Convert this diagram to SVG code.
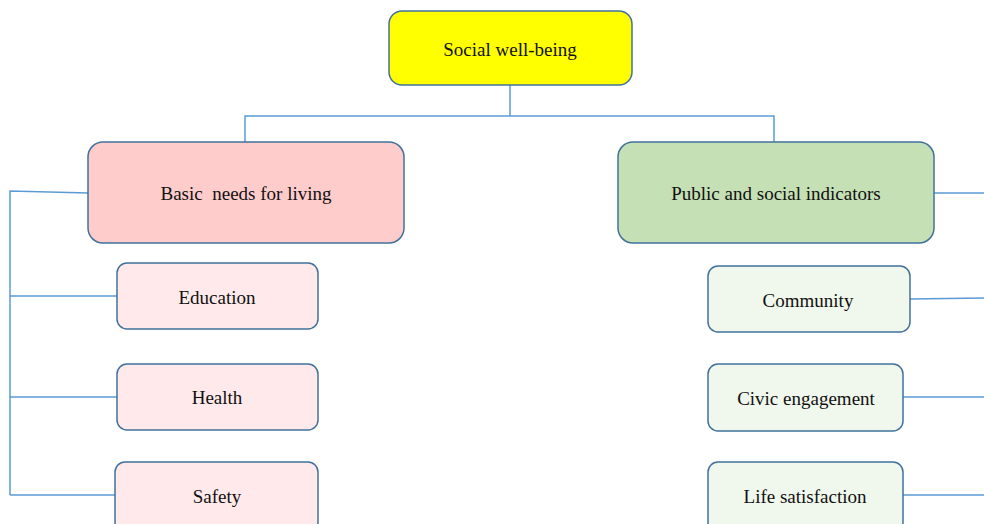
<svg xmlns="http://www.w3.org/2000/svg" width="984" height="524" viewBox="0 0 984 524">
<style>
.box{stroke:#41719C;stroke-width:1.5}
.t{font-family:"Liberation Serif","Times New Roman",serif;font-size:19px;fill:#111;text-anchor:middle;dominant-baseline:central;white-space:pre}
.c{fill:none;stroke:#5B9BD5;stroke-width:1.5}
.pk{fill:#FFE9EA}
.gr{fill:#F0F7EC}
</style>
<rect width="984" height="524" fill="#fff"/>
<g id="connectors">
<path class="c" d="M510,85 V116 M245,142 V116 H774 V142"/>
<path class="c" d="M88,193 L10,191 V495 M10,296 H117 M10,397 H117 M10,495 H115"/>
<path class="c" d="M934,193 H984 M910,299 L984,298 M903,397 H984 M903,495 H984"/>
</g>
<g id="root"><rect class="box" x="389" y="11" width="243" height="74" rx="13" fill="#FFFF00"/><text class="t" x="510" y="49">Social well-being</text></g>
<g id="basic"><rect class="box" x="88" y="142" width="316" height="101" rx="15" fill="#FFCCCC"/><text class="t" x="246" y="193" xml:space="preserve">Basic  needs for living</text></g>
<g id="public"><rect class="box" x="618" y="142" width="316" height="101" rx="15" fill="#C5E0B4"/><text class="t" x="776" y="193">Public and social indicators</text></g>
<g id="education"><rect class="box pk" x="117" y="263" width="201" height="66" rx="10"/><text class="t" x="217" y="297">Education</text></g>
<g id="health"><rect class="box pk" x="117" y="364" width="201" height="66" rx="10"/><text class="t" x="217" y="397">Health</text></g>
<g id="safety"><rect class="box pk" x="115" y="462" width="203" height="70" rx="10"/><text class="t" x="217" y="496">Safety</text></g>
<g id="community"><rect class="box gr" x="708" y="266" width="202" height="66" rx="10"/><text class="t" x="808" y="300">Community</text></g>
<g id="civic"><rect class="box gr" x="708" y="364" width="195" height="67" rx="10"/><text class="t" x="806" y="398">Civic engagement</text></g>
<g id="life"><rect class="box gr" x="708" y="462" width="195" height="70" rx="10"/><text class="t" x="805" y="496">Life satisfaction</text></g>
</svg>
